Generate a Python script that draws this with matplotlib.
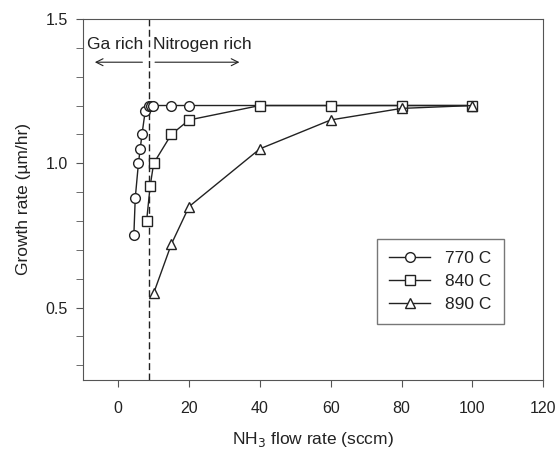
import numpy as np
import matplotlib.pyplot as plt

plt.rcParams['font.family'] = ['Liberation Sans', 'DejaVu Sans']
plt.rcParams['font.size'] = 12.5

ink = '#222222'

# growth rate vs NH3 flow
x770 = [4.4, 4.8, 5.7, 6.2, 6.7, 7.6, 8.6, 9.2, 9.9, 15, 20, 40, 60, 80, 100]
y770 = [0.75, 0.88, 1.00, 1.05, 1.10, 1.18, 1.20, 1.20, 1.20, 1.20, 1.20, 1.20, 1.20, 1.20, 1.20]

x840 = [8, 9, 10, 15, 20, 40, 60, 80, 100]
y840 = [0.80, 0.92, 1.00, 1.10, 1.15, 1.20, 1.20, 1.20, 1.20]

x890 = [10, 15, 20, 40, 60, 80, 100]
y890 = [0.55, 0.72, 0.85, 1.05, 1.15, 1.19, 1.20]

boundary = 8.6

fig = plt.figure(figsize=(5.56, 4.5), dpi=100)
ax = fig.add_axes([0.149, 0.156, 0.828, 0.802])

kw = dict(color=ink, lw=1.0, mfc='white', mec=ink, mew=1.0, ms=7)
ax.plot(x770, y770, marker='o', label='770 C', **kw)
ax.plot(x840, y840, marker='s', label='840 C', **kw)
ax.plot(x890, y890, marker='^', label='890 C', **kw)

ax.axvline(boundary, color=ink, lw=1.0, ls=(0, (5, 2.5)), zorder=0)

# regime annotations
ax.text(-8.8, 1.41, 'Ga rich', color=ink, va='center', ha='left')
ax.text(9.9, 1.41, 'Nitrogen rich', color=ink, va='center', ha='left')
ax.annotate('', xy=(-7.4, 1.35), xytext=(7.6, 1.35),
            arrowprops=dict(arrowstyle='->', color=ink, lw=0.8))
ax.annotate('', xy=(35, 1.35), xytext=(9.6, 1.35),
            arrowprops=dict(arrowstyle='->', color=ink, lw=0.8))

ax.set_xlim(-10, 120)
ax.set_ylim(0.25, 1.5)
ax.set_xticks(np.arange(0, 121, 20))
ax.set_yticks([0.5, 1.0, 1.5])
ax.set_yticks(np.arange(0.3, 1.45, 0.1), minor=True)
ax.tick_params(direction='out', length=5, color='#555555', labelcolor=ink,
               labelsize=11.5, pad=6)
ax.tick_params(which='minor', length=5, color='#555555')
ax.tick_params(axis='x', pad=10)
for s in ax.spines.values():
    s.set_color('#555555')

ax.set_xlabel('NH$_3$ flow rate (sccm)', color=ink, labelpad=10)
ax.set_ylabel('Growth rate (\u00b5m/hr)', color=ink, labelpad=10)

leg = ax.legend(loc='upper left', bbox_to_anchor=(0.639, 0.39), fancybox=False,
                edgecolor='#555555', handlelength=2.36, handletextpad=0.86,
                labelspacing=0.45, borderpad=0.7, borderaxespad=0)
leg.get_frame().set_linewidth(1.0)
for t in leg.get_texts():
    t.set_color(ink)

fig.savefig('out.png', dpi=100)
